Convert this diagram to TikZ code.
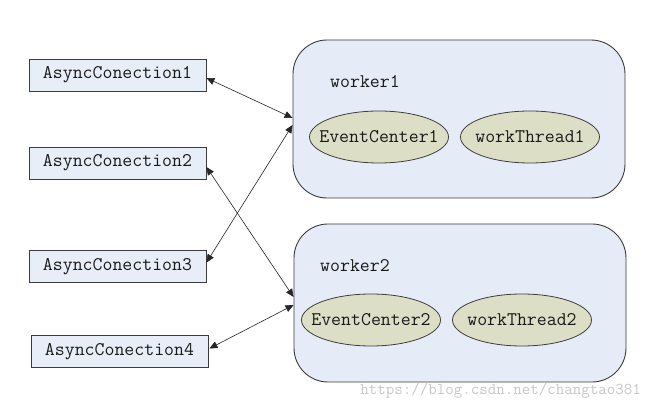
\documentclass[tikz,border=0pt]{standalone}
\usepackage{fontspec}
\usetikzlibrary{arrows.meta,shapes.geometric}
\definecolor{boxfill}{HTML}{E8EEF8}
\definecolor{wfill}{HTML}{E6ECF7}
\definecolor{efill}{HTML}{DCDFC6}
\definecolor{edge}{HTML}{3C3C3C}
\definecolor{wm}{HTML}{C8C8C8}
\tikzset{
  tfont/.style={font=\ttfamily\fontsize{19.3}{19.3}\selectfont, text=black!90},
  conn/.style={draw=edge, fill=boxfill, line width=0.9pt, minimum width=177pt, minimum height=32pt, inner sep=0pt, tfont},
  worker/.style={draw=edge, fill=wfill, line width=0.9pt, rounded corners=34pt, minimum width=332pt, minimum height=158pt, inner sep=0pt},
  ell/.style={ellipse, draw=edge, fill=efill, line width=0.8pt, minimum width=139pt, minimum height=52pt, inner sep=0pt, tfont},
  lbl/.style={anchor=west, inner sep=0pt, tfont},
  dbl/.style={{Triangle[length=8pt,width=7pt]}-{Triangle[length=8pt,width=7pt]}, line width=0.6pt, draw=black!85}
}
\begin{document}
\begin{tikzpicture}[x=1pt,y=-1pt]
\useasboundingbox[fill=white] (0,0) rectangle (650,411);
\node[worker] (w1) at (459,119) {};
\node[worker] (w2) at (460,303) {};
\node[lbl] (w1l) at (330,82) {worker1};
\node[lbl] (w2l) at (320,266) {worker2};
\node[ell] (ec1) at (379,137) {\makebox[0pt]{EventCenter1}};
\node[ell] (wt1) at (530,137) {\makebox[0pt]{workThread1}};
\node[ell] (ec2) at (371,320) {\makebox[0pt]{EventCenter2}};
\node[ell] (wt2) at (522,320) {\makebox[0pt]{workThread2}};
\node[conn] (ac1) at (117.5,75) {AsyncConection1};
\node[conn] (ac2) at (117.5,163) {AsyncConection2};
\node[conn] (ac3) at (117.5,266.5) {AsyncConection3};
\node[conn] (ac4) at (119.5,351.5) {AsyncConection4};
\node[anchor=east, inner sep=0pt, font=\ttfamily\fontsize{16.5}{16.5}\selectfont, text=wm] (wmk) at (641,391) {https://blog.csdn.net/changtao381};
\draw[dbl] ([yshift=-3pt]ac1.east) -- ([yshift=1pt]w1.west);
\draw[dbl] ([yshift=4pt]ac3.east) -- ([yshift=-6pt]w1.west);
\draw[dbl] ([yshift=-4pt]ac2.east) -- ([yshift=6pt]w2.west);
\draw[dbl] ([yshift=3pt,xshift=1pt]ac4.east) -- ([yshift=-2pt]w2.west);
\end{tikzpicture}
\end{document}
